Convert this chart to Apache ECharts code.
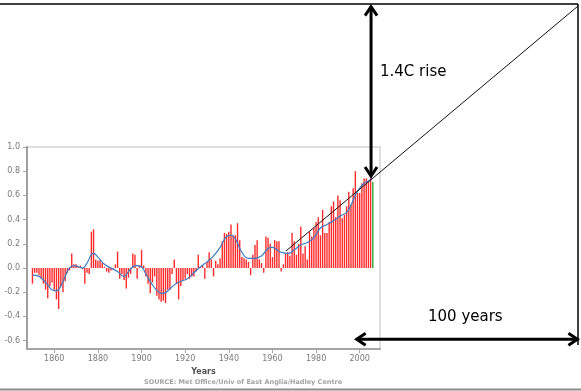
<!DOCTYPE html>
<html><head><meta charset="utf-8">
<script src="https://cdn.jsdelivr.net/npm/echarts@6/dist/echarts.min.js"></script>
<style>html,body{margin:0;padding:0;background:#fff}#c{width:581px;height:391px}</style>
</head><body><div id="c"></div>
<script>
// ---- data ----
const years = [1850,1851,1852,1853,1854,1855,1856,1857,1858,1859,1860,1861,1862,1863,1864,1865,1866,1867,1868,1869,
1870,1871,1872,1873,1874,1875,1876,1877,1878,1879,1880,1881,1882,1883,1884,1885,1886,1887,1888,1889,
1890,1891,1892,1893,1894,1895,1896,1897,1898,1899,1900,1901,1902,1903,1904,1905,1906,1907,1908,1909,
1910,1911,1912,1913,1914,1915,1916,1917,1918,1919,1920,1921,1922,1923,1924,1925,1926,1927,1928,1929,
1930,1931,1932,1933,1934,1935,1936,1937,1938,1939,1940,1941,1942,1943,1944,1945,1946,1947,1948,1949,
1950,1951,1952,1953,1954,1955,1956,1957,1958,1959,1960,1961,1962,1963,1964,1965,1966,1967,1968,1969,
1970,1971,1972,1973,1974,1975,1976,1977,1978,1979,1980,1981,1982,1983,1984,1985,1986,1987,1988,1989,
1990,1991,1992,1993,1994,1995,1996,1997,1998,1999,2000,2001,2002,2003,2004,2005,2006];
const anomalies = [-0.13,-0.04,-0.04,-0.06,-0.09,-0.13,-0.18,-0.25,-0.15,-0.12,-0.18,-0.26,-0.34,-0.15,-0.20,-0.11,-0.04,-0.02,0.12,0.03,
0.03,0.01,0.02,-0.01,-0.13,-0.04,-0.05,0.30,0.32,0.07,0.06,0.07,0.04,0.01,-0.03,-0.04,-0.02,-0.01,0.03,0.135,
-0.09,-0.05,-0.10,-0.17,-0.08,-0.05,0.12,0.11,-0.09,0.02,0.15,0.02,-0.07,-0.13,-0.21,-0.12,-0.07,-0.23,-0.26,-0.28,
-0.27,-0.29,-0.18,-0.18,-0.05,0.07,-0.13,-0.26,-0.15,-0.10,-0.09,-0.05,-0.09,-0.07,-0.07,-0.03,0.11,0.01,0.02,-0.09,
0.05,0.13,0.07,-0.07,0.06,0.03,0.08,0.22,0.29,0.28,0.30,0.36,0.27,0.27,0.37,0.23,0.09,0.08,0.07,0.05,
-0.06,0.11,0.19,0.23,0.07,0.04,-0.04,0.26,0.25,0.20,0.09,0.23,0.22,0.22,-0.03,0.03,0.12,0.13,0.10,0.29,
0.22,0.11,0.20,0.34,0.12,0.18,0.07,0.30,0.26,0.33,0.38,0.42,0.27,0.48,0.29,0.29,0.38,0.51,0.55,0.42,
0.60,0.56,0.41,0.44,0.51,0.63,0.52,0.66,0.80,0.62,0.62,0.70,0.74,0.74,0.71,0.77,0.71];
const highlightYear = 2006;
const smoothYears = [1850,1853,1855,1857,1859,1861,1863,1865,1867,1869,1871,1873,1875,1877,1878,1880,1883,1886,1889,1892,
1894,1896,1898,1900,1902,1905,1908,1910,1912,1915,1918,1921,1924,1927,1930,1933,1936,1939,1941,1943,
1946,1949,1952,1955,1958,1960,1962,1964,1967,1970,1973,1976,1979,1982,1985,1988,1991,1994,1996,1998,
2000,2002,2004,2006];
const smoothValues = [-0.06,-0.07,-0.10,-0.14,-0.18,-0.19,-0.15,-0.07,0.00,0.02,0.01,0.00,0.04,0.11,0.12,0.09,0.03,0.00,-0.03,-0.07,
-0.03,0.01,0.02,0.01,-0.05,-0.14,-0.20,-0.21,-0.19,-0.14,-0.11,-0.09,-0.04,0.01,0.05,0.10,0.17,0.26,0.27,0.24,
0.13,0.08,0.08,0.10,0.16,0.17,0.15,0.13,0.12,0.15,0.19,0.21,0.25,0.33,0.36,0.39,0.43,0.46,0.52,0.60,
0.66,0.70,0.72,0.74];
const xTicks = [1860,1880,1900,1920,1940,1960,1980,2000];
const yTicks = [-0.6,-0.4,-0.2,0.0,0.2,0.4,0.6,0.8,1.0];
const trendYears = [1966.2, 2100.1];
const trendValues = [0.14, 2.166];
const riseArrow = [2005.2, 0.76, 2005.2, 2.16];   // year, value -> year, value
const spanArrow = [1998.6, -0.59, 2099.8, -0.59];
const riseLabel = '1.4C rise';
const spanLabel = '100 years';
const sourceLabel = 'SOURCE: Met Office/Univ of East Anglia/Hadley Centre';

// ---- layout ----
const X_MIN = 1847.5, X_MAX = 2009.3, Y_MIN = -0.67, Y_MAX = 1.0;
const G = {left: 27, right: 380, top: 147, bottom: 349};
const yPerPx = (Y_MAX - Y_MIN) / (G.bottom - G.top);
const xPerPx = (X_MAX - X_MIN) / (G.right - G.left);
const OV = {right: 578, top: 4};
const OV_X_MAX = X_MIN + (OV.right - G.left) * xPerPx;
const OV_Y_MAX = Y_MIN + (G.bottom - OV.top) * yPerPx;

const font = '"DejaVu Sans", Verdana, sans-serif';
const chart = echarts.init(document.getElementById('c'), null, {renderer: 'canvas'});

function arrowItem(params, api) {
  const a = api.coord([api.value(0), api.value(1)]);
  const b = api.coord([api.value(2), api.value(3)]);
  const dx = b[0] - a[0], dy = b[1] - a[1], len = Math.hypot(dx, dy);
  const ux = dx / len, uy = dy / len, nx = -uy, ny = ux;
  const L = 9, W = 6;
  const head = (p, s) => [[p[0] - s*ux*L + nx*W, p[1] - s*uy*L + ny*W], [p[0], p[1]], [p[0] - s*ux*L - nx*W, p[1] - s*uy*L - ny*W]];
  const style = {stroke: '#000', lineWidth: 3, fill: null, lineJoin: 'miter', lineCap: 'butt'};
  return {type: 'group', children: [
    {type: 'line', shape: {x1: a[0], y1: a[1], x2: b[0], y2: b[1]}, style: style},
    {type: 'polyline', shape: {points: head(b, 1)}, style: style},
    {type: 'polyline', shape: {points: head(a, -1)}, style: style}
  ]};
}

const option = {
  animation: false,
  backgroundColor: '#fff',
  grid: [
    {left: G.left, top: G.top, width: G.right - G.left, height: G.bottom - G.top, show: true, borderColor: '#dedede', borderWidth: 2, backgroundColor: 'transparent'},
    {left: G.left, top: OV.top, width: OV.right - G.left, height: G.bottom - OV.top, show: false}
  ],
  xAxis: [
    {type: 'value', gridIndex: 0, min: X_MIN, max: X_MAX,
      axisLine: {show: true, onZero: false, lineStyle: {color: '#a6a6a6', width: 2}},
      axisTick: {show: true, customValues: xTicks, length: 4, lineStyle: {color: '#a6a6a6', width: 1}},
      axisLabel: {customValues: xTicks, color: '#7a7a7a', fontSize: 8, fontFamily: font, margin: 6,
        formatter: v => String(Math.round(v))},
      splitLine: {show: false},
      name: 'Years', nameLocation: 'middle', nameGap: 17,
      nameTextStyle: {color: '#555', fontSize: 8, fontWeight: 'bold', fontFamily: font}},
    {type: 'value', gridIndex: 1, min: X_MIN, max: OV_X_MAX, show: false}
  ],
  yAxis: [
    {type: 'value', gridIndex: 0, min: Y_MIN, max: Y_MAX,
      axisLine: {show: true, onZero: false, lineStyle: {color: '#a0a0a0', width: 2}},
      axisTick: {show: true, customValues: yTicks, length: 4, lineStyle: {color: '#a0a0a0', width: 1}},
      axisLabel: {customValues: yTicks, color: '#7a7a7a', fontSize: 8, fontFamily: font, margin: 7,
        formatter: v => Number(v).toFixed(1)},
      splitLine: {show: false}},
    {type: 'value', gridIndex: 1, min: Y_MIN, max: OV_Y_MAX, show: false}
  ],
  series: [
    {type: 'bar', xAxisIndex: 0, yAxisIndex: 0, barWidth: 1.4,
      itemStyle: {color: '#ff2a2a'},
      data: years.map((y, i) => y === highlightYear
        ? {value: [y, anomalies[i]], itemStyle: {color: '#33a833'}}
        : [y, anomalies[i]]),
      z: 2},
    {type: 'line', xAxisIndex: 0, yAxisIndex: 0, smooth: 0.5, showSymbol: false,
      lineStyle: {color: '#3b7cc2', width: 1.2},
      data: smoothYears.map((y, i) => [y, smoothValues[i]]), z: 3},
    {type: 'line', xAxisIndex: 1, yAxisIndex: 1, showSymbol: false, clip: false,
      lineStyle: {color: '#111', width: 1},
      data: trendYears.map((y, i) => [y, trendValues[i]]), z: 5},
    {type: 'custom', xAxisIndex: 1, yAxisIndex: 1, clip: false, z: 6,
      encode: {x: [0, 2], y: [1, 3]},
      renderItem: arrowItem,
      data: [riseArrow, spanArrow]}
  ],
  graphic: [
    {type: 'line', shape: {x1: 0, y1: 4, x2: 578, y2: 4}, style: {stroke: '#000', lineWidth: 1.5}, z: 10},
    {type: 'line', shape: {x1: 578, y1: 4, x2: 578, y2: 345}, style: {stroke: '#000', lineWidth: 1.5}, z: 10},
    {type: 'line', shape: {x1: 0, y1: 389.5, x2: 581, y2: 389.5}, style: {stroke: '#8c8c8c', lineWidth: 2}, z: 10},
    {type: 'text', x: 380, y: 72, style: {text: riseLabel, fill: '#000', font: '15px ' + font, verticalAlign: 'middle'}, z: 10},
    {type: 'text', x: 428, y: 317, style: {text: spanLabel, fill: '#000', font: '15px ' + font, verticalAlign: 'middle'}, z: 10},
    {type: 'text', x: 144, y: 382, style: {text: sourceLabel, fill: '#a3a3a3', font: 'bold 6.5px ' + font, verticalAlign: 'middle'}, z: 10}
  ]
};
chart.setOption(option);
</script>
</body></html>
